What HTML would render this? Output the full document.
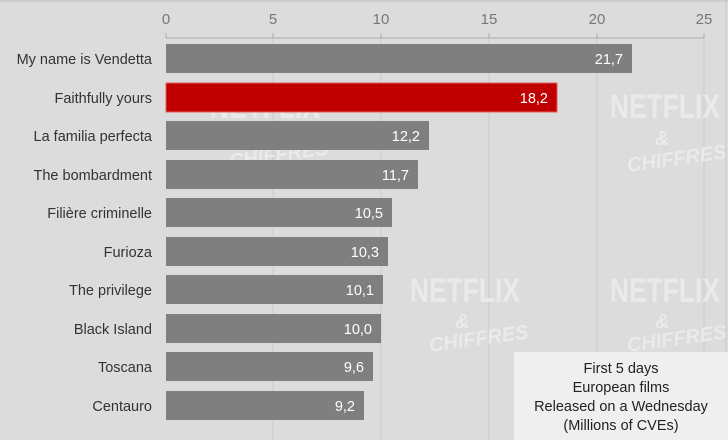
<!DOCTYPE html>
<html><head><style>body{margin:0;background:#dcdcdc}svg{display:block}text{font-family:"Liberation Sans",sans-serif}</style></head><body>
<svg width="728" height="440" viewBox="0 0 728 440">
<rect width="728" height="440" fill="#dcdcdc"/>
<line x1="0" y1="1" x2="728" y2="1" stroke="#bbb"/>
<line x1="726" y1="0" x2="726" y2="440" stroke="#c8c8c8"/>
<g stroke="#cacaca" stroke-width="1">
<line x1="273" y1="38" x2="273" y2="440"/><line x1="381" y1="38" x2="381" y2="440"/><line x1="489" y1="38" x2="489" y2="440"/><line x1="597" y1="38" x2="597" y2="440"/><line x1="704" y1="38" x2="704" y2="440"/>
</g>
<line x1="166" y1="38" x2="704" y2="38" stroke="#aaa"/>
<g stroke="#aaa"><line x1="166" y1="33" x2="166" y2="38"/><line x1="273" y1="33" x2="273" y2="38"/><line x1="381" y1="33" x2="381" y2="38"/><line x1="489" y1="33" x2="489" y2="38"/><line x1="597" y1="33" x2="597" y2="38"/><line x1="704" y1="33" x2="704" y2="38"/></g>
<g fill="#777" font-size="15" text-anchor="middle"><text x="166" y="24">0</text><text x="273" y="24">5</text><text x="381" y="24">10</text><text x="489" y="24">15</text><text x="597" y="24">20</text><text x="704" y="24">25</text></g>
<g fill="#eaeaea" font-weight="bold" font-size="34" font-family="Liberation Sans Narrow,Liberation Sans,sans-serif">
<text x="210" y="118" textLength="110" lengthAdjust="spacingAndGlyphs">NETFLIX</text>
<text x="610" y="118" textLength="110" lengthAdjust="spacingAndGlyphs">NETFLIX</text>
<text x="410" y="302" textLength="110" lengthAdjust="spacingAndGlyphs">NETFLIX</text>
<text x="610" y="302" textLength="110" lengthAdjust="spacingAndGlyphs">NETFLIX</text>
</g>
<g fill="#eaeaea" font-style="italic" font-weight="bold" font-size="20">
<text x="255" y="145">&amp;</text><text x="230" y="168" transform="rotate(-8 230 168)">CHIFFRES</text>
<text x="655" y="145">&amp;</text><text x="628" y="172" transform="rotate(-8 628 172)">CHIFFRES</text>
<text x="455" y="328">&amp;</text><text x="430" y="352" transform="rotate(-8 430 352)">CHIFFRES</text>
<text x="655" y="328">&amp;</text><text x="628" y="352" transform="rotate(-8 628 352)">CHIFFRES</text>
</g>
<g font-size="14.5">
<g fill="#333" text-anchor="end">
<text x="152" y="64">My name is Vendetta</text><text x="152" y="103">Faithfully yours</text><text x="152" y="141">La familia perfecta</text><text x="152" y="180">The bombardment</text><text x="152" y="218">Filière criminelle</text><text x="152" y="257">Furioza</text><text x="152" y="295">The privilege</text><text x="152" y="334">Black Island</text><text x="152" y="372">Toscana</text><text x="152" y="411">Centauro</text>
</g>
<rect x="166" y="44" width="466" height="29" fill="#7f7f7f"/>
<rect x="166" y="83" width="391" height="29" fill="#c00000" stroke="#e06060"/>
<rect x="166" y="121" width="263" height="29" fill="#7f7f7f"/>
<rect x="166" y="160" width="252" height="29" fill="#7f7f7f"/>
<rect x="166" y="198" width="226" height="29" fill="#7f7f7f"/>
<rect x="166" y="237" width="222" height="29" fill="#7f7f7f"/>
<rect x="166" y="275" width="217" height="29" fill="#7f7f7f"/>
<rect x="166" y="314" width="215" height="29" fill="#7f7f7f"/>
<rect x="166" y="352" width="207" height="29" fill="#7f7f7f"/>
<rect x="166" y="391" width="198" height="29" fill="#7f7f7f"/>
<g fill="#fff" text-anchor="end">
<text x="623" y="64">21,7</text><text x="548" y="103">18,2</text><text x="420" y="141">12,2</text><text x="409" y="180">11,7</text><text x="383" y="218">10,5</text><text x="379" y="257">10,3</text><text x="374" y="295">10,1</text><text x="372" y="334">10,0</text><text x="364" y="372">9,6</text><text x="355" y="411">9,2</text>
</g>
</g>
<rect x="514" y="352" width="214" height="88" fill="#efefef"/>
<g fill="#222" font-size="14.5" text-anchor="middle">
<text x="621" y="373">First 5 days</text><text x="621" y="392">European films</text><text x="621" y="411">Released on a Wednesday</text><text x="621" y="430">(Millions of CVEs)</text>
</g>
</svg>
</body></html>
